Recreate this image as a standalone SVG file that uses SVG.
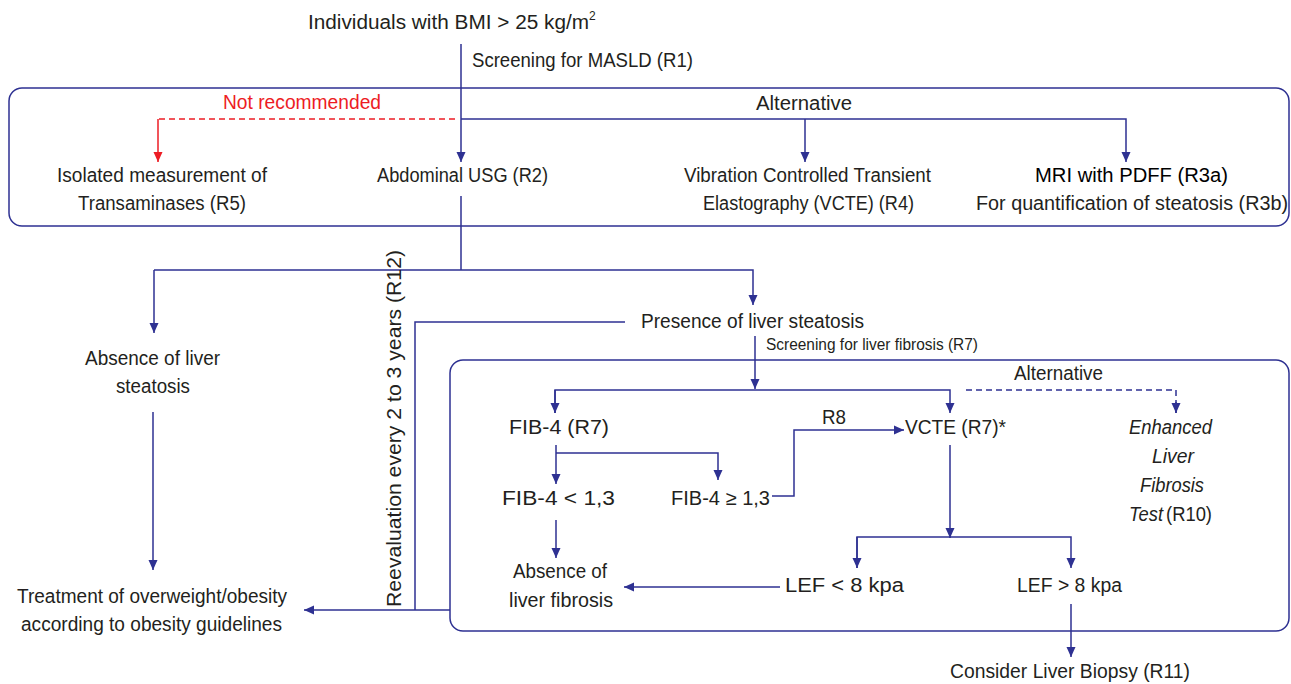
<svg xmlns="http://www.w3.org/2000/svg" width="1291" height="684" viewBox="0 0 1291 684">
<style>
text{font-family:"Liberation Sans",Arial,sans-serif;font-size:20px;fill:#231f20}
.s{font-size:16px}
.r{fill:#ed1c24}
.b{fill:#000}
.i{font-style:italic}
.ln{fill:none;stroke:#2e3192;stroke-width:1.5}
.rd{fill:none;stroke:#ed1c24;stroke-width:1.5}
.box{fill:none;stroke:#2e3192;stroke-width:1.5}
</style>
<defs>
<marker id="a" viewBox="0 0 10 10" refX="10" refY="5" markerWidth="10" markerHeight="10" markerUnits="userSpaceOnUse" orient="auto"><path d="M0,0.5 L10,5 L0,9.5z" fill="#2e3192"/></marker>
<marker id="ar" viewBox="0 0 10 10" refX="10" refY="5" markerWidth="10" markerHeight="10" markerUnits="userSpaceOnUse" orient="auto"><path d="M0,0.5 L10,5 L0,9.5z" fill="#ed1c24"/></marker>
</defs>

<g id="frames">
<rect class="box" x="9" y="88" width="1280" height="138" rx="13"/>
<rect class="box" x="450" y="360" width="839" height="271" rx="13"/>
</g>

<g id="connectors">
<path class="ln" d="M461,44 V162" marker-end="url(#a)"/>
<path class="ln" d="M461,119 H1126 V162" marker-end="url(#a)"/>
<path class="ln" d="M805,119 V162" marker-end="url(#a)"/>
<path class="rd" d="M455,119 H158" stroke-dasharray="6,4"/>
<path class="rd" d="M158,119 V162" marker-end="url(#ar)"/>
<path class="ln" d="M461,196 V270"/>
<path class="ln" d="M154,270 H753 V305" marker-end="url(#a)"/>
<path class="ln" d="M154,270 V333" marker-end="url(#a)"/>
<path class="ln" d="M153,412 V570" marker-end="url(#a)"/>
<path class="ln" d="M625,322 H415 V610"/>
<path class="ln" d="M450,610 H304" marker-end="url(#a)"/>
<path class="ln" d="M755,336 V389" marker-end="url(#a)"/>
<path class="ln" d="M555,413 V390 H950 V413" marker-end="url(#a)"/>
<path class="ln" d="M555,390 V413" marker-end="url(#a)"/>
<path class="ln" d="M966,390 H1176 V413" stroke-dasharray="6,4"/>
<path class="ln" d="M1176,402 V413" marker-end="url(#a)"/>
<path class="ln" d="M556,445 V484" marker-end="url(#a)"/>
<path class="ln" d="M556,453 H718 V480" marker-end="url(#a)"/>
<path class="ln" d="M772,496 H794 V430 H904" marker-end="url(#a)"/>
<path class="ln" d="M556,520 V558" marker-end="url(#a)"/>
<path class="ln" d="M950,445 V538" marker-end="url(#a)"/>
<path class="ln" d="M857,568 V537 H1071 V568" marker-end="url(#a)"/>
<path class="ln" d="M857,537 V568" marker-end="url(#a)"/>
<path class="ln" d="M780,587 H624" marker-end="url(#a)"/>
<path class="ln" d="M1071,604 V657" marker-end="url(#a)"/>
</g>

<g id="n-title"><text x="308" y="29"><tspan textLength="281" lengthAdjust="spacingAndGlyphs">Individuals with BMI &gt; 25 kg/m</tspan><tspan dy="-9" font-size="12">2</tspan></text></g>
<g id="lbl-r1"><text x="472" y="67" textLength="221" lengthAdjust="spacingAndGlyphs">Screening for MASLD (R1)</text></g>
<g id="lbl-notrec"><text class="r" x="223" y="109" textLength="158" lengthAdjust="spacingAndGlyphs">Not recommended</text></g>
<g id="lbl-alt1"><text x="756" y="110" textLength="96" lengthAdjust="spacingAndGlyphs">Alternative</text></g>
<g id="n-isolated">
<text x="57" y="182" textLength="210" lengthAdjust="spacingAndGlyphs">Isolated measurement of</text>
<text x="78" y="210" textLength="168" lengthAdjust="spacingAndGlyphs">Transaminases (R5)</text>
</g>
<g id="n-usg"><text x="377" y="182" textLength="171" lengthAdjust="spacingAndGlyphs">Abdominal USG (R2)</text></g>
<g id="n-vcte1">
<text x="684" y="182" textLength="247" lengthAdjust="spacingAndGlyphs">Vibration Controlled Transient</text>
<text x="703" y="210" textLength="211" lengthAdjust="spacingAndGlyphs">Elastography (VCTE) (R4)</text>
</g>
<g id="n-mri">
<text class="b" x="1035" y="182" textLength="193" lengthAdjust="spacingAndGlyphs">MRI with PDFF (R3a)</text>
<text x="976" y="210" textLength="312" lengthAdjust="spacingAndGlyphs">For quantification of steatosis (R3b)</text>
</g>
<g id="n-absence-steatosis">
<text x="85" y="365" textLength="135" lengthAdjust="spacingAndGlyphs">Absence of liver</text>
<text x="116" y="393" textLength="74" lengthAdjust="spacingAndGlyphs">steatosis</text>
</g>
<g id="n-treatment">
<text x="17" y="603" textLength="270" lengthAdjust="spacingAndGlyphs">Treatment of overweight/obesity</text>
<text x="21" y="631" textLength="261" lengthAdjust="spacingAndGlyphs">according to obesity guidelines</text>
</g>
<g id="n-presence"><text x="641" y="328" textLength="223" lengthAdjust="spacingAndGlyphs">Presence of liver steatosis</text></g>
<g id="lbl-reeval"><text transform="translate(401,607) rotate(-90)" x="0" y="0" textLength="357" lengthAdjust="spacingAndGlyphs">Reevaluation every 2 to 3 years (R12)</text></g>
<g id="lbl-r7"><text class="s" x="766" y="350" textLength="212" lengthAdjust="spacingAndGlyphs">Screening for liver fibrosis (R7)</text></g>
<g id="lbl-alt2"><text x="1014" y="380" textLength="89" lengthAdjust="spacingAndGlyphs">Alternative</text></g>
<g id="n-fib4"><text x="509" y="434" textLength="100" lengthAdjust="spacingAndGlyphs">FIB-4 (R7)</text></g>
<g id="lbl-r8"><text x="822" y="424" textLength="24" lengthAdjust="spacingAndGlyphs">R8</text></g>
<g id="n-vcte2"><text x="905" y="434" textLength="101" lengthAdjust="spacingAndGlyphs">VCTE (R7)*</text></g>
<g id="n-elf">
<text class="i" x="1129" y="434" textLength="83" lengthAdjust="spacingAndGlyphs">Enhanced</text>
<text class="i" x="1152" y="463" textLength="42" lengthAdjust="spacingAndGlyphs">Liver</text>
<text class="i" x="1140" y="492" textLength="64" lengthAdjust="spacingAndGlyphs">Fibrosis</text>
<text class="i" x="1129" y="521" textLength="34" lengthAdjust="spacingAndGlyphs">Test</text>
<text x="1166" y="521" textLength="46" lengthAdjust="spacingAndGlyphs">(R10)</text>
</g>
<g id="n-fib-low"><text x="502" y="505" textLength="113" lengthAdjust="spacingAndGlyphs">FIB-4 &lt; 1,3</text></g>
<g id="n-fib-high"><text x="671" y="505" textLength="99" lengthAdjust="spacingAndGlyphs">FIB-4 ≥ 1,3</text></g>
<g id="n-absence-fibrosis">
<text x="513" y="578" textLength="94" lengthAdjust="spacingAndGlyphs">Absence of</text>
<text x="509" y="607" textLength="104" lengthAdjust="spacingAndGlyphs">liver fibrosis</text>
</g>
<g id="n-lef-low"><text x="785" y="592" textLength="119" lengthAdjust="spacingAndGlyphs">LEF &lt; 8 kpa</text></g>
<g id="n-lef-high"><text x="1017" y="592" textLength="105" lengthAdjust="spacingAndGlyphs">LEF &gt; 8 kpa</text></g>
<g id="n-biopsy"><text x="950" y="678" textLength="240" lengthAdjust="spacingAndGlyphs">Consider Liver Biopsy (R11)</text></g>
</svg>
